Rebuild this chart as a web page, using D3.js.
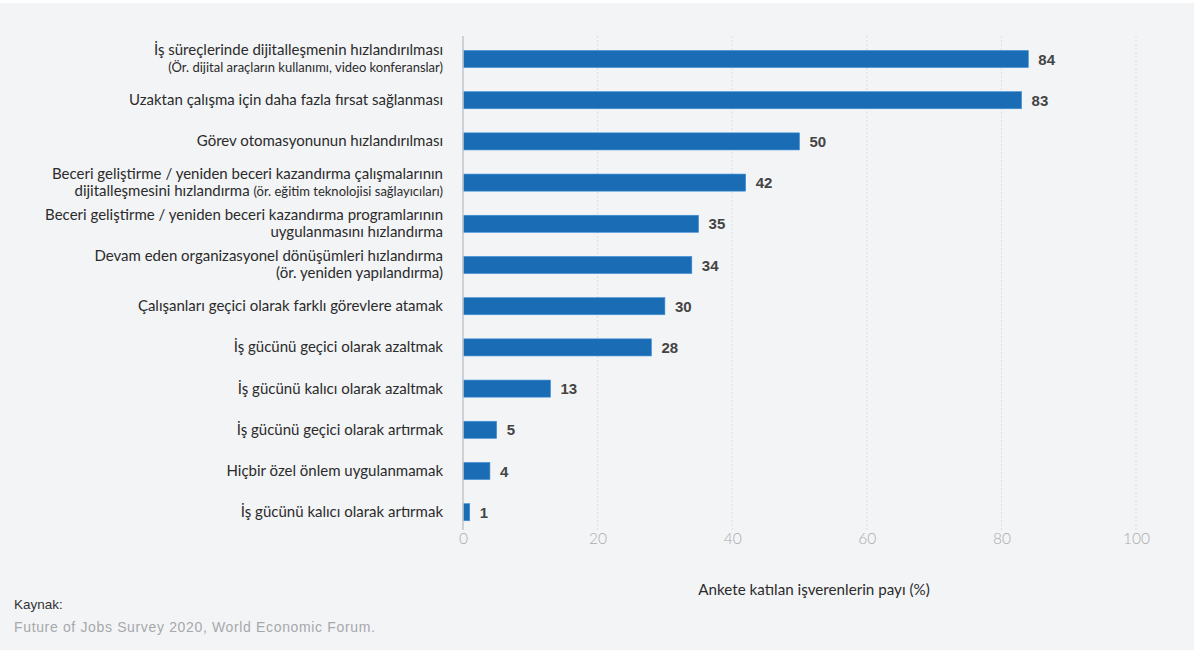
<!DOCTYPE html>
<html>
<head>
<meta charset="utf-8">
<script src="https://cdn.jsdelivr.net/npm/d3@7"></script>
<style>
  body { margin: 0; background: #f3f4f6; }
  svg { display: block; }
</style>
</head>
<body>
<svg id="chart" width="1194" height="650"></svg>
<script>
// data
const categories = [
  "İş süreçlerinde dijitalleşmenin hızlandırılması",
  "Uzaktan çalışma için daha fazla fırsat sağlanması",
  "Görev otomasyonunun hızlandırılması",
  "Beceri geliştirme / yeniden beceri kazandırma çalışmalarının dijitalleşmesini hızlandırma",
  "Beceri geliştirme / yeniden beceri kazandırma programlarının uygulanmasını hızlandırma",
  "Devam eden organizasyonel dönüşümleri hızlandırma (ör. yeniden yapılandırma)",
  "Çalışanları geçici olarak farklı görevlere atamak",
  "İş gücünü geçici olarak azaltmak",
  "İş gücünü kalıcı olarak azaltmak",
  "İş gücünü geçici olarak artırmak",
  "Hiçbir özel önlem uygulanmamak",
  "İş gücünü kalıcı olarak artırmak"
];
const values = [84, 83, 50, 42, 35, 34, 30, 28, 13, 5, 4, 1];
// label lines: each line is a list of [text, isSmall]
const labelLines = [
  [[["İş süreçlerinde dijitalleşmenin hızlandırılması", false]],
   [["(Ör. dijital araçların kullanımı, video konferanslar)", true]]],
  [[["Uzaktan çalışma için daha fazla fırsat sağlanması", false]]],
  [[["Görev otomasyonunun hızlandırılması", false]]],
  [[["Beceri geliştirme / yeniden beceri kazandırma çalışmalarının", false]],
   [["dijitalleşmesini hızlandırma  ", false], ["(ör. eğitim teknolojisi sağlayıcıları)", true]]],
  [[["Beceri geliştirme / yeniden beceri kazandırma programlarının", false]],
   [["uygulanmasını hızlandırma", false]]],
  [[["Devam eden organizasyonel dönüşümleri hızlandırma", false]],
   [["(ör. yeniden yapılandırma)", false]]],
  [[["Çalışanları geçici olarak farklı görevlere atamak", false]]],
  [[["İş gücünü geçici olarak azaltmak", false]]],
  [[["İş gücünü kalıcı olarak azaltmak", false]]],
  [[["İş gücünü geçici olarak artırmak", false]]],
  [[["Hiçbir özel önlem uygulanmamak", false]]],
  [[["İş gücünü kalıcı olarak artırmak", false]]]
];
const xTicks = [0, 20, 40, 60, 80, 100];
const axisTitle = "Ankete katılan işverenlerin payı (%)";
const sourceLabel = "Kaynak:";
const sourceText = "Future of Jobs Survey 2020, World Economic Forum.";

const svg = d3.select("#chart");
const width = 1194, height = 650;

svg.append("rect").attr("width", width).attr("height", height).attr("fill", "#f3f4f6");
svg.append("rect").attr("width", width).attr("height", 3).attr("fill", "#ffffff");

const x = d3.scaleLinear().domain([0, 100]).range([463, 1136]);
const y = d3.scaleBand()
    .domain(d3.range(categories.length))
    .range([38.4, 532.8])
    .paddingInner(0.585)
    .paddingOuter(0.2925);

const plotTop = 36, plotBottom = 530;

// dashed grid lines
svg.append("g")
  .selectAll("line")
  .data(xTicks.filter(d => d > 0))
  .enter().append("line")
    .attr("x1", d => x(d)).attr("x2", d => x(d))
    .attr("y1", plotTop).attr("y2", plotBottom)
    .attr("stroke", "#dcdee2")
    .attr("stroke-width", 1)
    .attr("stroke-dasharray", "2,2");

// x axis labels (no axis line, just tick text)
const xAxis = svg.append("g")
    .attr("transform", `translate(0,${plotBottom})`)
    .call(d3.axisBottom(x).tickValues(xTicks).tickSize(0).tickPadding(3));
xAxis.select(".domain").remove();
xAxis.selectAll("text")
    .attr("fill", "#a9abae")
    .style("font-family", "Lato, 'Open Sans', sans-serif")
    .style("font-weight", "300")
    .style("font-size", "15.5px");

// bars
svg.append("g")
  .selectAll("rect")
  .data(values)
  .enter().append("rect")
    .attr("x", x(0))
    .attr("y", (d, i) => y(i))
    .attr("width", d => x(d) - x(0))
    .attr("height", y.bandwidth())
    .attr("fill", "#1a6db5")
    .attr("stroke", "#3f8fd6")
    .attr("stroke-width", 0.6);

// vertical baseline
svg.append("line")
    .attr("x1", x(0)).attr("x2", x(0))
    .attr("y1", plotTop).attr("y2", plotBottom)
    .attr("stroke", "#c4c6ca")
    .attr("stroke-width", 1.5);

// value labels
svg.append("g")
  .selectAll("text")
  .data(values)
  .enter().append("text")
    .attr("x", d => x(d) + 10)
    .attr("y", (d, i) => y(i) + y.bandwidth() / 2 + 5.5)
    .attr("fill", "#444")
    .style("font-family", "'Liberation Sans', Arial, sans-serif")
    .style("font-weight", "bold")
    .style("font-size", "15px")
    .text(d => d);

// category labels
const labels = svg.append("g")
  .selectAll("text")
  .data(labelLines)
  .enter().append("text")
    .attr("text-anchor", "end")
    .attr("fill", "#2b2b2b")
    .style("font-family", "Lato, 'Open Sans', sans-serif")
    .style("font-size", "15px");

labels.each(function(lines, i) {
  const cy = y(i) + y.bandwidth() / 2;
  const t = d3.select(this);
  lines.forEach((segs, li) => {
    const base = lines.length === 1 ? cy + 5 : cy - 4 + li * 17;
    segs.forEach((seg, si) => {
      const ts = t.append("tspan").text(seg[0]);
      if (si === 0) ts.attr("x", 443).attr("y", base);
      if (seg[1]) ts.style("font-size", "13px");
    });
  });
});

// axis title
svg.append("text")
    .attr("x", 814)
    .attr("y", 595)
    .attr("text-anchor", "middle")
    .attr("fill", "#2b2b2b")
    .style("font-family", "Lato, 'Open Sans', sans-serif")
    .style("font-size", "15.2px")
    .text(axisTitle);

// source
svg.append("text")
    .attr("x", 14).attr("y", 609)
    .attr("fill", "#333")
    .style("font-family", "'Liberation Sans', Arial, sans-serif")
    .style("font-size", "13.5px")
    .text(sourceLabel);
svg.append("text")
    .attr("x", 14).attr("y", 632)
    .attr("fill", "#a6a8ab")
    .style("font-family", "'Liberation Sans', Arial, sans-serif")
    .style("font-size", "14px")
    .style("letter-spacing", "0.65px")
    .text(sourceText);
</script>
</body>
</html>
